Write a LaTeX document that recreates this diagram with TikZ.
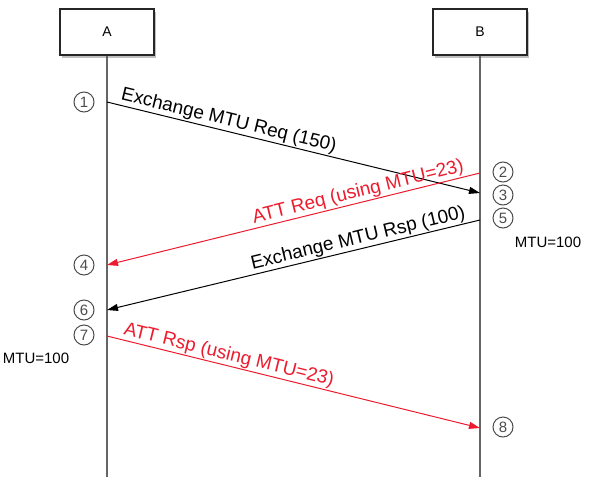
\documentclass[tikz,border=0pt]{standalone}
\usepackage{fontspec}
\setmainfont{Liberation Sans}
\usetikzlibrary{arrows.meta,shadows}

\definecolor{attred}{RGB}{236,28,46}

\begin{document}
\begin{tikzpicture}[x=1pt,y=-1pt,
    entity/.style={draw=black!85,fill=white,line width=1.3pt,minimum width=94pt,minimum height=46pt,
      font=\fontsize{14}{16}\selectfont,drop shadow={shadow xshift=1.5pt,shadow yshift=-2.5pt,opacity=0.5}},
    lifeline/.style={draw=black!60,line width=1.2pt},
    msg/.style={line width=1pt,-{Triangle[length=11pt,width=7pt]}},
    msglabel/.style={sloped,above,inner sep=1pt,pos=0.32,font=\fontsize{19}{21}\selectfont},
    stepno/.style={circle,draw=black!70,text=black!70,line width=1pt,inner sep=0pt,minimum size=20pt,
      font=\fontsize{15}{15}\selectfont},
    mtu/.style={font=\fontsize{15}{17}\selectfont}]
\useasboundingbox (0,0) rectangle (589,477);

% participants and lifelines
\node[entity] (A) at (107,32) {A};
\node[entity] (B) at (480,32) {B};
\coordinate (Aend) at (107,477);
\coordinate (Bend) at (480,477);
\draw[lifeline] (A) -- (Aend);
\draw[lifeline] (B) -- (Bend);

% message end points
\coordinate (a1) at (107,102);
\coordinate (b1) at (480,193);
\coordinate (b2) at (480,173);
\coordinate (a2) at (107,265);
\coordinate (b3) at (480,220);
\coordinate (a3) at (107,310);
\coordinate (a4) at (107,336);
\coordinate (b4) at (480,428);

% messages
\draw[msg] (a1) -- node[msglabel] {Exchange MTU Req (150)} (b1);
\draw[msg,attred] (b2) -- node[msglabel] {ATT Req (using MTU=23)} (a2);
\draw[msg] (b3) -- node[msglabel] {Exchange MTU Rsp (100)} (a3);
\draw[msg,attred] (a4) -- node[msglabel] {ATT Rsp (using MTU=23)} (b4);

% step numbers
\foreach \n/\x/\y in {1/84/102,4/84/265,6/84/310,7/84/335,2/503/172,3/503/195,5/503/218,8/503/427}
  \node[stepno] (s\n) at (\x,\y) {\n};

\node[mtu] (mtuB) at (548,242) {MTU=100};
\node[mtu] (mtuA) at (36,358) {MTU=100};
\end{tikzpicture}
\end{document}
